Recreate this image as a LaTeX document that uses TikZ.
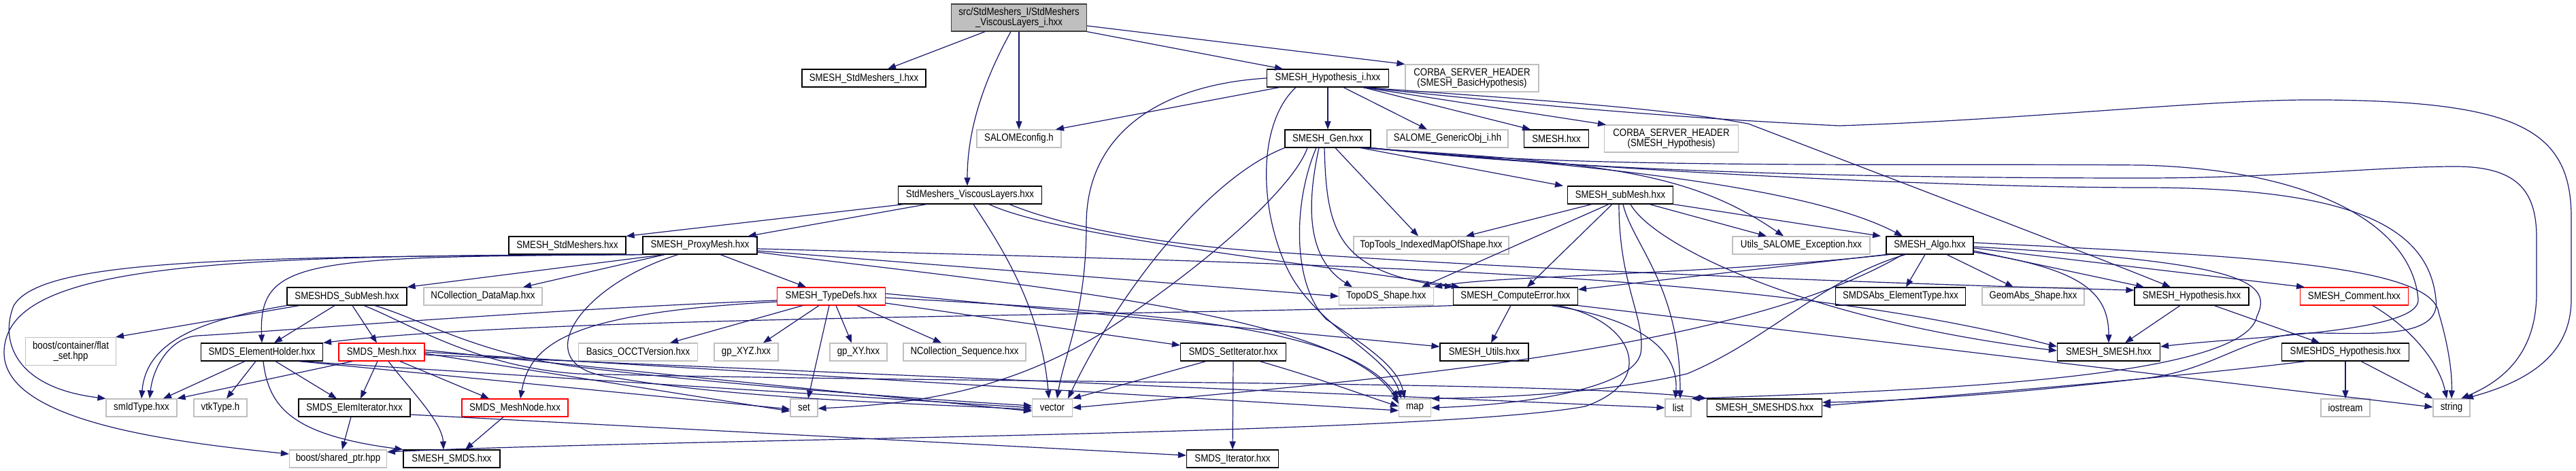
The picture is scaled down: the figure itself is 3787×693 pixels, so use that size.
\documentclass[tikz,border=0pt]{standalone}
\usepackage{fontspec}
\newfontfamily\nf{Liberation Sans}[FakeStretch=0.86]
\usetikzlibrary{arrows.meta}
\definecolor{edgec}{HTML}{191970}
\definecolor{lgr}{HTML}{BFBFBF}
\begin{document}
\begin{tikzpicture}[x=1pt,y=-1pt,
  nb/.style={draw=black, line width=1.15pt, minimum height=26pt, inner sep=0pt, align=center, text=black, font={\nf\fontsize{15.4pt}{15pt}\selectfont}},
  ng/.style={nb, draw=lgr, line width=1.1pt},
  nr/.style={nb, draw=red},
  edg/.style={draw=edgec, line width=1.2pt, -{Triangle[length=12pt,width=9pt]}}]
\useasboundingbox (0,0) rectangle (3787,693);
\fill[white] (0,0) rectangle (3787,693);
% ---------------- nodes ----------------
\node[nb, fill=lgr, draw=black!75, minimum width=199pt, minimum height=40pt] (root) at (1498,26) {src/StdMeshers\_I/StdMeshers\\\_ViscousLayers\_i.hxx};
\node[nb, minimum width=182pt] (SSI) at (1270,115) {SMESH\_StdMeshers\_I.hxx};
\node[nb, minimum width=179pt] (HYPI) at (1952,115) {SMESH\_Hypothesis\_i.hxx};
\node[ng, minimum width=196pt, minimum height=40pt] (CORBAB) at (2164,115) {CORBA\_SERVER\_HEADER\\(SMESH\_BasicHypothesis)};
\node[ng, minimum width=124pt] (SCONF) at (1498,204) {SALOMEconfig.h};
\node[nb, minimum width=126pt] (GEN) at (1952,204) {SMESH\_Gen.hxx};
\node[ng, minimum width=178pt] (GOBJ) at (2128,204) {SALOME\_GenericObj\_i.hh};
\node[nb, minimum width=95pt] (SMESHH) at (2288,204) {SMESH.hxx};
\node[ng, minimum width=197pt, minimum height=40pt] (CORBAH) at (2457,204) {CORBA\_SERVER\_HEADER\\(SMESH\_Hypothesis)};
\node[nb, minimum width=211pt] (VL) at (1426,287) {StdMeshers\_ViscousLayers.hxx};
\node[nb, minimum width=155pt] (SUB) at (2382,287) {SMESH\_subMesh.hxx};
\node[nb, minimum width=172pt] (STDM) at (834,361) {SMESH\_StdMeshers.hxx};
\node[nb, minimum width=168pt] (PROXY) at (1029,361) {SMESH\_ProxyMesh.hxx};
\node[ng, minimum width=228pt] (TOPTOOLS) at (2104,361) {TopTools\_IndexedMapOfShape.hxx};
\node[ng, minimum width=202pt] (UTILS) at (2648,361) {Utils\_SALOME\_Exception.hxx};
\node[nb, minimum width=128pt] (ALGO) at (2837,361) {SMESH\_Algo.hxx};
\node[nb, minimum width=176pt] (DSSUB) at (510,436) {SMESHDS\_SubMesh.hxx};
\node[ng, minimum width=174pt] (NCDM) at (710,436) {NCollection\_DataMap.hxx};
\node[nr, minimum width=159pt] (TYPEDEFS) at (1222,436) {SMESH\_TypeDefs.hxx};
\node[ng, minimum width=139pt] (TOPODS) at (2038,436) {TopoDS\_Shape.hxx};
\node[nb, minimum width=183pt] (CERR) at (2228,436) {SMESH\_ComputeError.hxx};
\node[nb, minimum width=191pt] (ABSET) at (2794,436) {SMDSAbs\_ElementType.hxx};
\node[ng, minimum width=150pt] (GEOMABS) at (2989,436) {GeomAbs\_Shape.hxx};
\node[nb, minimum width=168pt] (HYP) at (3222,436) {SMESH\_Hypothesis.hxx};
\node[nr, minimum width=159pt] (COMMENT) at (3461,436) {SMESH\_Comment.hxx};
\node[ng, minimum width=133pt, minimum height=41pt] (FLATSET) at (104,517) {boost/container/flat\\\_set.hpp};
\node[nb, minimum width=179pt] (EHOLD) at (385,518) {SMDS\_ElementHolder.hxx};
\node[nr, minimum width=126pt] (SMDSMESH) at (561,518) {SMDS\_Mesh.hxx};
\node[ng, minimum width=175pt] (OCCT) at (938,518) {Basics\_OCCTVersion.hxx};
\node[ng, minimum width=94pt] (XYZ) at (1097,518) {gp\_XYZ.hxx};
\node[ng, minimum width=84pt] (XY) at (1262,518) {gp\_XY.hxx};
\node[ng, minimum width=180pt] (NCSEQ) at (1418,518) {NCollection\_Sequence.hxx};
\node[nb, minimum width=155pt] (SETIT) at (1813,518) {SMDS\_SetIterator.hxx};
\node[nb, minimum width=130pt] (UTILSH) at (2182,518) {SMESH\_Utils.hxx};
\node[nb, minimum width=151pt] (SMESHSMESH) at (3100,518) {SMESH\_SMESH.hxx};
\node[nb, minimum width=187pt] (DSHYP) at (3448,518) {SMESHDS\_Hypothesis.hxx};
\node[ng, minimum width=104pt] (SMID) at (208,600) {smIdType.hxx};
\node[ng, minimum width=78pt] (VTK) at (324,600) {vtkType.h};
\node[nb, minimum width=164pt] (ELEMIT) at (521,600) {SMDS\_ElemIterator.hxx};
\node[nr, minimum width=156pt] (MESHNODE) at (757,600) {SMDS\_MeshNode.hxx};
\node[ng, minimum width=40pt] (SET) at (1182,600) {set};
\node[ng, minimum width=59pt] (VECTOR) at (1547,600) {vector};
\node[ng, minimum width=47pt] (MAP) at (2080,600) {map};
\node[ng, minimum width=38pt] (LIST) at (2467,600) {list};
\node[nb, minimum width=169pt] (SMESHDS) at (2594,600) {SMESH\_SMESHDS.hxx};
\node[ng, minimum width=72pt] (IOSTREAM) at (3448,600) {iostream};
\node[ng, minimum width=54pt] (STRING) at (3604,600) {string};
\node[ng, minimum width=143pt] (SPTR) at (497,675) {boost/shared\_ptr.hpp};
\node[nb, minimum width=142pt] (SMESHSMDS) at (664,675) {SMESH\_SMDS.hxx};
\node[nb, minimum width=135pt] (ITER) at (1812,675) {SMDS\_Iterator.hxx};
% ---------------- edges ----------------
% root
\draw[edg] ([xshift=-50pt]root.south) -- ([xshift=35pt]SSI.north);
\draw[edg] (root.south) -- (SCONF.north);
\draw[edg] ([xshift=-12pt]root.south) .. controls (1440,130) and (1422,200) .. ([xshift=-4pt]VL.north);
\draw[edg] (root.south east) -- ([xshift=-66pt]HYPI.north);
\draw[edg] ([yshift=-12pt]root.east) -- (CORBAB.north west);
% SMESH_Hypothesis_i
\draw[edg] ([xshift=-71pt]HYPI.south) -- ([xshift=54pt]SCONF.north);
\draw[edg] (HYPI.south) -- (GEN.north);
\draw[edg] ([xshift=23pt]HYPI.south) -- ([xshift=-30pt]GOBJ.north);
\draw[edg] ([xshift=52pt]HYPI.south) -- ([xshift=-38pt]SMESHH.north);
\draw[edg] ([xshift=52pt]HYPI.south) -- ([xshift=3pt]CORBAH.north west);
\draw[edg] ([xshift=53pt]HYPI.south) .. controls (2300,150) and (2450,160) .. (2570,182) .. controls (2800,270) and (3100,385) .. ([xshift=-31pt]HYP.north);
\draw[edg] ([xshift=53pt]HYPI.south) .. controls (2300,160) and (2500,175) .. (2704,185) .. controls (3000,175) and (3250,145) .. (3420,147) .. controls (3700,150) and (3780,190) .. (3780,320) -- (3780,440) .. controls (3780,520) and (3720,560) .. ([xshift=20pt]STRING.north);
\draw[edg] ([xshift=-47pt]HYPI.south) .. controls (1850,180) and (1850,300) .. (1890,390) .. controls (1930,480) and (2040,520) .. ([xshift=-20pt]MAP.north);
\draw[edg] (HYPI.west) .. controls (1700,125) and (1597,200) .. (1597,330) .. controls (1597,460) and (1565,520) .. ([xshift=7pt]VECTOR.north);
% SMESH_Gen
\draw[edg] ([xshift=48pt]GEN.south) -- ([xshift=-84pt]SUB.north);
\draw[edg] ([xshift=11pt]GEN.south) -- ([xshift=-19pt]TOPTOOLS.north);
\draw[edg] ([xshift=50pt]GEN.south) .. controls (2350,240) and (2480,250) .. ([xshift=-26pt]UTILS.north);
\draw[edg] ([xshift=52pt]GEN.south) .. controls (2300,240) and (2650,270) .. ([xshift=-40pt]ALGO.north);
\draw[edg] ([xshift=-13pt]GEN.south) .. controls (1921,300) and (1920,380) .. ([xshift=-50pt]TOPODS.north);
\draw[edg] ([xshift=-5pt]GEN.south) .. controls (1950,340) and (1965,400) .. (CERR.north west);
\draw[edg] (GEN.south east) .. controls (2300,250) and (2800,240) .. (3150,243) .. controls (3400,250) and (3545,330) .. (3555,440) .. controls (3560,490) and (3300,495) .. ([yshift=8pt]SMESHSMESH.east);
\draw[edg] (GEN.south east) .. controls (2400,255) and (2900,276) .. (3150,276) .. controls (3450,276) and (3570,330) .. (3581,440) .. controls (3590,500) and (3480,490) .. (3400,490) .. controls (3300,490) and (3260,545) .. (3150,557) .. controls (2950,580) and (2800,590) .. ([yshift=8pt]SMESHDS.east);
\draw[edg] (GEN.south east) .. controls (2350,255) and (2800,262) .. (3150,262) .. controls (3350,262) and (3500,245) .. (3609,245) .. controls (3700,245) and (3729,280) .. (3729,350) -- (3729,430) .. controls (3729,520) and (3680,560) .. ([xshift=14pt]STRING.north);
\draw[edg] (GEN.south west) .. controls (1780,260) and (1650,420) .. ([xshift=23pt]VECTOR.north);
\draw[edg] ([xshift=-30pt]GEN.south) .. controls (1900,280) and (1760,400) .. (1620,490) .. controls (1480,575) and (1350,594) .. ([yshift=-1pt]SET.east);
\draw[edg] ([xshift=-17pt]GEN.south) .. controls (1900,300) and (1900,420) .. (1950,470) .. controls (2010,510) and (2055,540) .. ([xshift=-15pt]MAP.north);
% SMESH_subMesh
\draw[edg] ([xshift=-42pt]SUB.south) -- ([xshift=51pt]TOPTOOLS.north);
\draw[edg] ([xshift=-17pt]SUB.south) -- ([xshift=52pt]TOPODS.north);
\draw[edg] ([xshift=-12pt]SUB.south) -- ([xshift=17pt]CERR.north);
\draw[edg] ([xshift=-2pt]SUB.south) .. controls (2380,420) and (2420,470) .. (2412,520) .. controls (2400,570) and (2250,595) .. (MAP.east);
\draw[edg] ([xshift=4pt]SUB.south) .. controls (2400,360) and (2470,420) .. ([xshift=3pt]LIST.north);
\draw[edg] ([xshift=15pt]SUB.south) .. controls (2430,360) and (2650,470) .. ([yshift=2pt]SMESHSMESH.west);
\draw[edg] ([xshift=43pt]SUB.south) -- ([xshift=-51pt]UTILS.north);
\draw[edg] (SUB.south east) -- ([xshift=-72pt]ALGO.north);
% StdMeshers_ViscousLayers
\draw[edg] ([xshift=-97pt]VL.south) -- (STDM.north east);
\draw[edg] ([xshift=-64pt]VL.south) -- ([xshift=-14pt]PROXY.north east);
\draw[edg] ([xshift=5pt]VL.south) .. controls (1470,360) and (1530,450) .. ([xshift=-5pt]VECTOR.north);
\draw[edg] ([xshift=28pt]VL.south) .. controls (1560,350) and (1950,390) .. ([xshift=10pt]CERR.north west);
\draw[edg] ([xshift=58pt]VL.south) .. controls (1580,340) and (1750,365) .. (1890,372) .. controls (2300,400) and (2800,418) .. ([yshift=9pt]HYP.west);
% SMESH_ProxyMesh
\draw[edg] ([xshift=-52pt]PROXY.south) -- (DSSUB.north east);
\draw[edg] ([xshift=-52pt]PROXY.south) -- ([xshift=59pt]NCDM.north);
\draw[edg] ([xshift=30pt]PROXY.south) -- ([xshift=-37pt]TYPEDEFS.north);
\draw[edg] (PROXY.south west) .. controls (450,378) and (380,380) .. (EHOLD.north);
\draw[edg] (PROXY.south west) .. controls (350,378) and (60,380) .. (20,450) .. controls (0,500) and (20,570) .. (SMID.north west);
\draw[edg] (PROXY.south west) .. controls (300,375) and (5,390) .. (6,520) .. controls (8,620) and (250,650) .. ([yshift=7pt]SPTR.west);
\draw[edg] ([yshift=-8pt]PROXY.east) -- (TOPODS.west);
\draw[edg] ([yshift=-5pt]PROXY.east) .. controls (2000,390) and (2600,400) .. ([yshift=8pt]SMESHSMESH.west);
\draw[edg] ([yshift=-10pt]PROXY.east) .. controls (1500,420) and (1980,460) .. ([yshift=6pt]MAP.west);
\draw[edg] ([xshift=-32pt]PROXY.south) .. controls (850,420) and (770,540) .. (900,555) .. controls (1100,590) and (1400,595) .. ([yshift=-3pt]VECTOR.west);
% SMESH_TypeDefs
\draw[edg] ([yshift=-6pt]TYPEDEFS.west) .. controls (800,455) and (400,488) .. (290,494) .. controls (250,497) and (225,540) .. ([xshift=12pt]SMID.north);
\draw[edg] ([yshift=-8pt]TYPEDEFS.west) .. controls (850,460) and (780,500) .. ([xshift=8pt]MESHNODE.north);
\draw[edg] ([xshift=-42pt]TYPEDEFS.south) -- ([xshift=47pt]OCCT.north);
\draw[edg] ([xshift=-18pt]TYPEDEFS.south) -- ([xshift=25pt]XYZ.north);
\draw[edg] ([xshift=7pt]TYPEDEFS.south) -- ([xshift=-10pt]XY.north);
\draw[edg] ([xshift=38pt]TYPEDEFS.south) -- ([xshift=-34pt]NCSEQ.north);
\draw[edg] ([xshift=-3pt]TYPEDEFS.south) -- ([xshift=6pt]SET.north);
\draw[edg] ([yshift=-10pt]TYPEDEFS.east) -- ([yshift=10pt]SETIT.west);
\draw[edg] ([yshift=4pt]TYPEDEFS.east) -- ([yshift=8pt]UTILSH.west);
\draw[edg] ([yshift=-2pt]TYPEDEFS.east) .. controls (1700,460) and (1980,480) .. (MAP.north west);
% SMESHDS_SubMesh
\draw[edg] ([xshift=-70pt]DSSUB.south) -- ([xshift=66pt]FLATSET.north);
\draw[edg] ([xshift=-18pt]DSSUB.south) -- ([xshift=18pt]EHOLD.north);
\draw[edg] ([xshift=8pt]DSSUB.south) -- ([xshift=-7pt]SMDSMESH.north);
\draw[edg] (DSSUB.south west) .. controls (300,470) and (215,500) .. (SMID.north);
\draw[edg] ([xshift=25pt]DSSUB.south) .. controls (600,475) and (700,540) .. (850,550) .. controls (1500,565) and (2300,560) .. (SMESHDS.north west);
\draw[edg] ([xshift=41pt]DSSUB.south) .. controls (620,470) and (700,520) .. (850,540) .. controls (1100,570) and (1400,590) .. ([yshift=3pt]VECTOR.west);
% SMDS_ElementHolder
\draw[edg] ([xshift=-25pt]EHOLD.south) -- ([xshift=32pt]SMID.north);
\draw[edg] ([xshift=-9pt]EHOLD.south) -- ([xshift=9pt]VTK.north);
\draw[edg] ([xshift=20pt]EHOLD.south) -- ([xshift=-26pt]ELEMIT.north);
\draw[edg] ([xshift=2pt]EHOLD.south) .. controls (395,600) and (430,640) .. (SMESHSMDS.north west);
\draw[edg] ([xshift=55pt]EHOLD.south) -- (VECTOR.west);
\draw[edg] ([xshift=55pt]EHOLD.south) -- ([yshift=-2pt]SET.west);
% SMDS_Mesh
\draw[edg] ([xshift=-43pt]SMDSMESH.south) -- (SMID.north east);
\draw[edg] ([xshift=-6pt]SMDSMESH.south) -- ([xshift=9pt]ELEMIT.north);
\draw[edg] ([xshift=10pt]SMDSMESH.south) .. controls (600,570) and (650,620) .. ([xshift=-12pt]SMESHSMDS.north);
\draw[edg] ([xshift=27pt]SMDSMESH.south) -- ([xshift=-38pt]MESHNODE.north);
\draw[edg] ([yshift=-2pt]SMDSMESH.east) -- ([yshift=-5pt]SET.west);
\draw[edg] ([yshift=3pt]SMDSMESH.east) -- ([yshift=-5pt]VECTOR.west);
\draw[edg] (SMDSMESH.east) -- ([yshift=-4pt]MAP.west);
\draw[edg] ([yshift=-4pt]SMDSMESH.east) -- (LIST.west);
% iterators, mesh node
\draw[edg] ([xshift=-5pt]ELEMIT.south) -- ([xshift=6pt]SPTR.north);
\draw[edg] ([yshift=-10pt]ELEMIT.east) -- ([yshift=5pt]ITER.west);
\draw[edg] ([xshift=-17pt]MESHNODE.south) -- ([xshift=20pt]SMESHSMDS.north);
\draw[edg] (SETIT.south) -- (ITER.north);
\draw[edg] ([xshift=-40pt]SETIT.south) -- (VECTOR.north east);
\draw[edg] ([xshift=39pt]SETIT.south) .. controls (1950,560) and (2000,580) .. ([yshift=2pt]MAP.west);
% SMESH_ComputeError
\draw[edg] ([xshift=-7pt]CERR.south) -- ([xshift=10pt]UTILSH.north);
\draw[edg] (CERR.south west) .. controls (1700,465) and (800,465) .. (EHOLD.north east);
\draw[edg] ([xshift=62pt]CERR.south) .. controls (2400,470) and (2440,560) .. (2330,598) .. controls (2100,640) and (1000,645) .. ([yshift=10pt]SPTR.east);
\draw[edg] (CERR.south east) -- ([yshift=1pt]STRING.west);
\draw[edg] ([xshift=52pt]CERR.south) .. controls (2420,470) and (2468,520) .. ([xshift=-4pt]LIST.north);
% SMESH_Algo
\draw[edg] ([xshift=-7pt]ALGO.south) -- ([xshift=8pt]ABSET.north);
\draw[edg] ([xshift=25pt]ALGO.south) -- ([xshift=-29pt]GEOMABS.north);
\draw[edg] ([yshift=-8pt]ALGO.east) -- ([xshift=-70pt]HYP.north);
\draw[edg] ([yshift=-10pt]ALGO.east) .. controls (3060,395) and (3100,430) .. (SMESHSMESH.north);
\draw[edg] ([yshift=-4pt]ALGO.east) -- ([xshift=-73pt]COMMENT.north);
\draw[edg] ([yshift=4pt]ALGO.east) .. controls (3250,375) and (3575,385) .. (3585,460) .. controls (3600,510) and (3605,550) .. (STRING.north);
\draw[edg] ([yshift=-2pt]ALGO.east) .. controls (3280,385) and (3345,410) .. (3318,465) .. controls (3300,560) and (2800,575) .. (LIST.north east);
\draw[edg] (ALGO.south west) -- ([yshift=10pt]CERR.east);
\draw[edg] ([xshift=5pt]ALGO.south west) .. controls (2500,405) and (2200,405) .. (TOPODS.north east);
\draw[edg] ([xshift=-36pt]ALGO.south) .. controls (2680,410) and (2600,500) .. (2480,550) .. controls (2350,580) and (2200,585) .. (MAP.north east);
\draw[edg] ([xshift=-40pt]ALGO.south) .. controls (2550,520) and (2000,560) .. (VECTOR.east);
% SMESH_Hypothesis, SMESHDS_Hypothesis, SMESH_Comment
\draw[edg] ([xshift=33pt]HYP.south) -- ([xshift=-38pt]DSHYP.north);
\draw[edg] ([xshift=-17pt]HYP.south) -- ([xshift=24pt]SMESHSMESH.north);
\draw[edg] ([xshift=-58pt]DSHYP.south) .. controls (3200,555) and (2900,580) .. ([yshift=3pt]SMESHDS.east);
\draw[edg] (DSHYP.south) -- (IOSTREAM.north);
\draw[edg] ([xshift=23pt]DSHYP.south) -- (STRING.north west);
\draw[edg] ([xshift=27pt]COMMENT.south) .. controls (3540,480) and (3585,530) .. ([xshift=-7pt]STRING.north);
\end{tikzpicture}
\end{document}
